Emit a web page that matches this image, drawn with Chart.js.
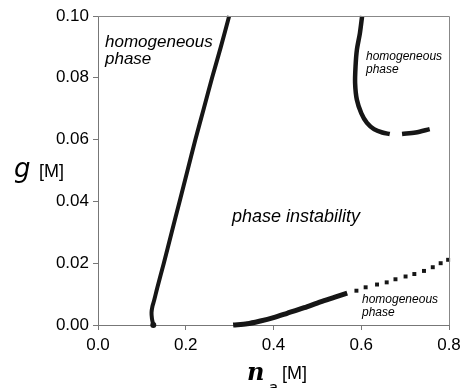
<!DOCTYPE html>
<html>
<head>
<meta charset="utf-8">
<script src="https://cdn.jsdelivr.net/npm/chart.js@4/dist/chart.umd.min.js"></script>
<style>
html,body{margin:0;padding:0;background:#fff;}
#wrap{width:461px;height:388px;position:relative;}
</style>
</head>
<body>
<div id="wrap"><canvas id="c" width="461" height="388"></canvas></div>
<script>
// ---- data ----
const xTickLabels = ['0.0', '0.2', '0.4', '0.6', '0.8'];
const yTickLabels = ['0.00', '0.02', '0.04', '0.06', '0.08', '0.10'];

// left spinodal branch
const leftX = [0.126, 0.123, 0.122, 0.124, 0.128, 0.135, 0.150, 0.168, 0.186, 0.204, 0.222, 0.241, 0.260, 0.280, 0.299];
const leftG = [0.000, 0.002, 0.004, 0.006, 0.008, 0.012, 0.020, 0.030, 0.040, 0.050, 0.060, 0.070, 0.080, 0.090, 0.100];

// upper right branch (two pieces)
const upperX = [0.602, 0.597, 0.590, 0.587, 0.586, 0.590, 0.600, 0.613, 0.629, 0.648, 0.665];
const upperG = [0.100, 0.0945, 0.089, 0.0837, 0.0783, 0.0729, 0.0686, 0.0654, 0.0634, 0.0623, 0.0618];
const upper2X = [0.693, 0.724, 0.756];
const upper2G = [0.0618, 0.0623, 0.0634];

// lower right branch (solid part)
const lowerX = [0.308, 0.340, 0.370, 0.400, 0.431, 0.470, 0.507, 0.540, 0.568];
const lowerG = [0.0000, 0.0004, 0.0013, 0.0024, 0.0038, 0.0056, 0.0075, 0.0090, 0.0103];

// lower right branch (dotted part)
const dotX = [0.589, 0.610, 0.636, 0.658, 0.678, 0.701, 0.721, 0.743, 0.763, 0.781, 0.798];
const dotG = [0.0111, 0.0122, 0.0131, 0.0138, 0.0148, 0.0157, 0.0165, 0.0175, 0.0187, 0.0200, 0.0211];

// end point marker of left branch
const endX = [0.126];
const endG = [0.000];

// ---- build ----
const pts = (xs, ys) => xs.map((x, i) => ({x: x, y: ys[i]}));
const INK = '#161616';
const lineDS = (xs, ys, w) => ({
  data: pts(xs, ys), showLine: true, borderColor: INK, borderWidth: w,
  pointRadius: 0, tension: 0.3, clip: false, borderCapStyle: 'butt'
});

const annotations = {
  id: 'annotations',
  afterDraw(chart) {
    const ctx = chart.ctx;
    const a = chart.chartArea;
    ctx.save();
    // frame (top & right)
    ctx.strokeStyle = '#888';
    ctx.lineWidth = 1;
    ctx.beginPath();
    ctx.moveTo(a.left, Math.round(a.top) + 0.5);
    ctx.lineTo(Math.round(a.right) + 0.5, Math.round(a.top) + 0.5);
    ctx.lineTo(Math.round(a.right) + 0.5, a.bottom);
    ctx.stroke();

    ctx.fillStyle = '#000';
    ctx.textBaseline = 'alphabetic';
    ctx.textAlign = 'left';
    ctx.font = 'italic 17px "Liberation Sans"';
    ctx.fillText('homogeneous', 105, 47);
    ctx.fillText('phase', 105, 64);
    ctx.font = 'italic 18px "Liberation Sans"';
    ctx.fillText('phase instability', 232, 222);
    ctx.font = 'italic 12px "Liberation Sans"';
    ctx.fillText('homogeneous', 366, 60);
    ctx.fillText('phase', 366, 73);
    ctx.fillText('homogeneous', 362, 303);
    ctx.fillText('phase', 362, 316);

    // axis titles
    ctx.font = 'italic 26px "DejaVu Sans"';
    ctx.fillText('g', 14, 177);
    ctx.font = '18px "Liberation Sans"';
    ctx.fillText('[M]', 39, 177);

    ctx.font = 'italic bold 24px "DejaVu Serif"';
    ctx.fillText('n', 247, 380);
    ctx.font = 'italic 16px "DejaVu Sans"';
    ctx.fillText('a', 268, 393);
    ctx.font = '18px "Liberation Sans"';
    ctx.fillText('[M]', 282, 379);
    ctx.restore();
  }
};

new Chart(document.getElementById('c'), {
  type: 'scatter',
  data: {
    datasets: [
      lineDS(leftX, leftG, 4),
      lineDS(upperX, upperG, 4.5),
      lineDS(upper2X, upper2G, 4.5),
      lineDS(lowerX, lowerG, 5),
      { data: pts(dotX, dotG), showLine: false, pointStyle: 'rect', pointRadius: 2.8,
        pointBackgroundColor: INK, pointBorderWidth: 0, clip: false },
      { data: pts(endX, endG), showLine: false, pointStyle: 'circle', pointRadius: 3,
        pointBackgroundColor: INK, pointBorderWidth: 0, clip: false }
    ]
  },
  options: {
    responsive: false,
    animation: false,
    events: [],
    layout: { padding: { left: 0, top: 16, right: 12, bottom: 0 } },
    plugins: { legend: { display: false }, tooltip: { enabled: false }, title: { display: false } },
    scales: {
      x: {
        type: 'linear', min: 0, max: 0.8,
        ticks: { stepSize: 0.2, color: '#000', padding: 5,
          font: { family: '"Liberation Sans"', size: 17 },
          callback: (v, i) => xTickLabels[i] },
        grid: { drawOnChartArea: false, drawTicks: true, tickLength: 5, color: '#777' },
        border: { display: true, color: '#777', width: 1 },
        afterFit(s) { s.height = 63; s.paddingLeft = 0; s.paddingRight = 0; }
      },
      y: {
        type: 'linear', min: 0, max: 0.1,
        ticks: { stepSize: 0.02, color: '#000', padding: 4,
          font: { family: '"Liberation Sans"', size: 17 },
          callback: (v, i) => yTickLabels[i] },
        grid: { drawOnChartArea: false, drawTicks: true, tickLength: 5, color: '#777' },
        border: { display: true, color: '#777', width: 1 },
        afterFit(s) { s.width = 98; s.paddingTop = 0; s.paddingBottom = 0; }
      }
    }
  },
  plugins: [annotations]
});
</script>
</body>
</html>
